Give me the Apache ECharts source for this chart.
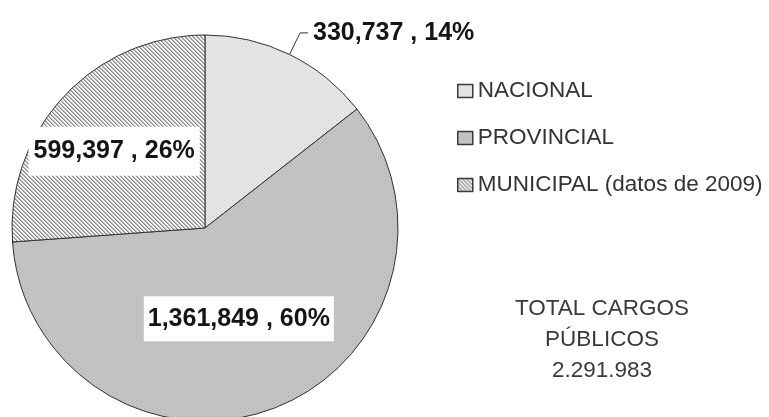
<!DOCTYPE html>
<html>
<head>
<meta charset="utf-8">
<style>
  html, body { margin: 0; padding: 0; background: #ffffff; }
  #chart { width: 769px; height: 417px; }
</style>
<script src="https://cdn.jsdelivr.net/npm/echarts@6/dist/echarts.min.js"></script>
</head>
<body>
<div id="chart"></div>
<script>
// Public posts by level of government
const categories = ['NACIONAL', 'PROVINCIAL', 'MUNICIPAL (datos de 2009)'];
const values = [330737, 1361849, 599397];
const percentLabels = [14, 60, 26];
const totalTitle = ['TOTAL CARGOS', 'PÚBLICOS'];

const FONT = '"Liberation Sans", Arial, sans-serif';

// Small tiled textures used as slice fills
function makePattern(draw) {
  const c = document.createElement('canvas');
  c.width = 4; c.height = 4;
  const ctx = c.getContext('2d');
  draw(ctx);
  return { image: c, repeat: 'repeat' };
}
function dotted(base, dot) {
  return makePattern(ctx => {
    ctx.fillStyle = base; ctx.fillRect(0, 0, 4, 4);
    ctx.fillStyle = dot;
    ctx.fillRect(0, 0, 1, 1);
    ctx.fillRect(2, 2, 1, 1);
  });
}
const hatched = makePattern(ctx => {
  ctx.fillStyle = '#f2f2f2'; ctx.fillRect(0, 0, 4, 4);
  ctx.fillStyle = '#8c8c8c';
  for (let i = 0; i < 4; i++) ctx.fillRect(i, i, 1, 1);
  ctx.fillStyle = '#b8b8b8';
  for (let i = 0; i < 4; i++) ctx.fillRect((i + 1) % 4, i, 1, 1);
});
const fills = [dotted('#e6e6e6', '#d0d0d0'), dotted('#c4c4c4', '#b0b0b0'), hatched];

function thousands(n, sep) {
  return String(n).replace(/\B(?=(\d{3})+(?!\d))/g, sep);
}
const total = values.reduce((a, b) => a + b, 0);

const labelText = {
  fontFamily: FONT, fontSize: 25, fontWeight: 'bold', color: '#151515'
};

const data = categories.map((name, i) => ({
  name: name,
  value: values[i],
  itemStyle: { color: fills[i] }
}));
data[0].label = { position: 'outside' };
data[0].labelLine = { show: true, length: 24, length2: 8, lineStyle: { color: '#333', width: 1 } };
data[1].label = { position: 'inside', backgroundColor: '#ffffff', padding: [10, 4] };
data[2].label = { position: 'inside', backgroundColor: '#ffffff', padding: [12, 5] };

const chart = echarts.init(document.getElementById('chart'), null, { renderer: 'canvas' });
chart.setOption({
  animation: false,
  backgroundColor: '#ffffff',
  title: {
    text: totalTitle.join('\n') + '\n' + thousands(total, '.'),
    left: 602,
    top: 293,
    textAlign: 'center',
    padding: 0,
    textStyle: {
      fontFamily: FONT, fontSize: 22.5, fontWeight: 'normal',
      color: '#3a3a3a', lineHeight: 31
    }
  },
  legend: {
    orient: 'vertical',
    left: 457,
    top: 79,
    padding: 0,
    itemWidth: 15,
    itemHeight: 13,
    itemGap: 23,
    icon: 'rect',
    itemStyle: { borderColor: '#3a3a3a', borderWidth: 1.5 },
    textStyle: { fontFamily: FONT, fontSize: 22.5, color: '#333333', lineHeight: 24 },
    data: categories
  },
  series: [{
    type: 'pie',
    center: [205, 228],
    radius: 193,
    startAngle: 90,
    clockwise: true,
    avoidLabelOverlap: false,
    itemStyle: { borderColor: '#333333', borderWidth: 1 },
    emphasis: { disabled: true },
    label: Object.assign({
      show: true,
      formatter: p => thousands(p.value, ',') + ' , ' + percentLabels[p.dataIndex] + '%'
    }, labelText),
    labelLine: { show: false },
    labelLayout: p => (p.dataIndex === 2 ? { dx: -18, dy: -9 } : (p.dataIndex === 1 ? { dx: -2, dy: -2 } : {})),
    data: data
  }]
});
</script>
</body>
</html>
